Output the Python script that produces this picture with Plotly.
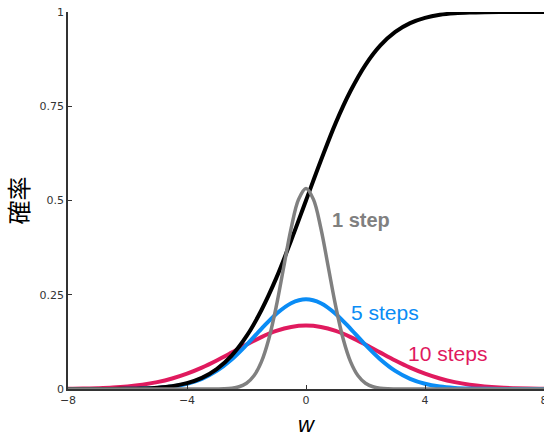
import plotly.graph_objects as go

# x grid for the broad curves
w_grid = [-8, -7.5, -7, -6.5, -6, -5.5, -5, -4.5, -4, -3.5, -3, -2.5, -2, -1.5, -1, -0.5,
          0, 0.5, 1, 1.5, 2, 2.5, 3, 3.5, 4, 4.5, 5, 5.5, 6, 6.5, 7, 7.5, 8]

# black cumulative curve
p_cum = [0.0000, 0.0000, 0.0001, 0.0002, 0.0006, 0.0015, 0.0035, 0.0075, 0.0154, 0.0294,
         0.0526, 0.0885, 0.140, 0.209, 0.294, 0.394,
         0.500, 0.606, 0.706, 0.791, 0.860, 0.9115, 0.9474, 0.9706, 0.9846, 0.9925,
         0.9965, 0.9985, 0.9994, 0.9998, 0.9999, 1.0000, 1.0000]

# 5 steps (blue)
p_5 = [0.0, 0.0, 0.00004, 0.0001, 0.0004, 0.0011, 0.0028, 0.0065, 0.0138, 0.0270,
       0.0480, 0.0783, 0.1169, 0.1595, 0.1992, 0.2276,
       0.2379, 0.2276, 0.1992, 0.1595, 0.1169, 0.0783, 0.0480, 0.0270, 0.0138, 0.0065,
       0.0028, 0.0011, 0.0004, 0.0001, 0.00004, 0.0, 0.0]

# 10 steps (pink)
p_10 = [0.0006, 0.0011, 0.0022, 0.0039, 0.0069, 0.0114, 0.0182, 0.0278, 0.0406, 0.0566,
        0.0756, 0.0965, 0.1179, 0.1377, 0.1539, 0.1645,
        0.1682, 0.1645, 0.1539, 0.1377, 0.1179, 0.0965, 0.0756, 0.0566, 0.0406, 0.0278,
        0.0182, 0.0114, 0.0069, 0.0039, 0.0022, 0.0011, 0.0006]

# 1 step (gray), finer grid
w_1 = [-8, -4, -3, -2.75, -2.5, -2.25, -2, -1.75, -1.5, -1.25, -1, -0.75, -0.5, -0.25,
       0, 0.25, 0.5, 0.75, 1, 1.25, 1.5, 1.75, 2, 2.25, 2.5, 2.75, 3, 4, 8]
p_1 = [0.0, 0.0, 0.0002, 0.0006, 0.0021, 0.0059, 0.0152, 0.0350, 0.0720, 0.1327, 0.219,
       0.323, 0.426, 0.503, 0.532, 0.503, 0.426, 0.323, 0.219, 0.1327, 0.0720, 0.0350,
       0.0152, 0.0059, 0.0021, 0.0006, 0.0002, 0.0, 0.0]

x_ticks = [-8, -4, 0, 4, 8]
x_tick_labels = ["−8", "−4", "0", "4", "8"]
y_ticks = [0, 0.25, 0.5, 0.75, 1]
y_tick_labels = ["0", "0.25", "0.5", "0.75", "1"]

labels = ["1 step", "5 steps", "10 steps"]
label_x = [1.85, 2.65, 4.75]
label_y = [0.449, 0.204, 0.093]

GRAY = "#808080"
BLUE = "#0a8cf5"
PINK = "#e01a5e"

fig = go.Figure()
fig.add_trace(go.Scatter(x=w_grid, y=p_10, mode="lines", line=dict(color=PINK, width=4, shape="spline")))
fig.add_trace(go.Scatter(x=w_grid, y=p_5, mode="lines", line=dict(color=BLUE, width=4, shape="spline")))
fig.add_trace(go.Scatter(x=w_grid, y=p_cum, mode="lines", line=dict(color="black", width=4, shape="spline")))
fig.add_trace(go.Scatter(x=w_1, y=p_1, mode="lines", line=dict(color=GRAY, width=3.5, shape="spline")))

colors = [GRAY, BLUE, PINK]
weights = ["bold", "normal", "normal"]
sizes = [20, 21, 21]
for t, x, y, c, wgt, s in zip(labels, label_x, label_y, colors, weights, sizes):
    fig.add_annotation(x=x, y=y, text=t, showarrow=False,
                       font=dict(color=c, size=s, family="Liberation Sans, Arial", weight=wgt))

fig.update_layout(
    width=544, height=438,
    margin=dict(l=68, r=0, t=12, b=49),
    plot_bgcolor="white", paper_bgcolor="white",
    showlegend=False,
    xaxis=dict(range=[-8, 8], tickvals=x_ticks, ticktext=x_tick_labels,
               showgrid=False, zeroline=False, showline=True, linecolor="#333",
               linewidth=1.5, ticks="inside", ticklen=4, tickcolor="#333",
               ticklabeloverflow="allow", automargin=False,
               tickfont=dict(size=11, color="#333", family="DejaVu Sans"),
               title=dict(text="<i>w</i>", font=dict(size=22, color="black",
                          family="Liberation Sans, Arial"), standoff=11)),
    yaxis=dict(range=[0, 1], tickvals=y_ticks, ticktext=y_tick_labels,
               showgrid=False, zeroline=False, showline=True, linecolor="#333",
               linewidth=1.5, ticks="inside", ticklen=4, tickcolor="#333",
               ticklabeloverflow="allow", automargin=False,
               tickfont=dict(size=11, color="#333", family="DejaVu Sans"),
               title=dict(text="確率", font=dict(size=24, color="black",
                          family="Noto Sans CJK JP"), standoff=6)),
)

fig.write_html("out.html")
